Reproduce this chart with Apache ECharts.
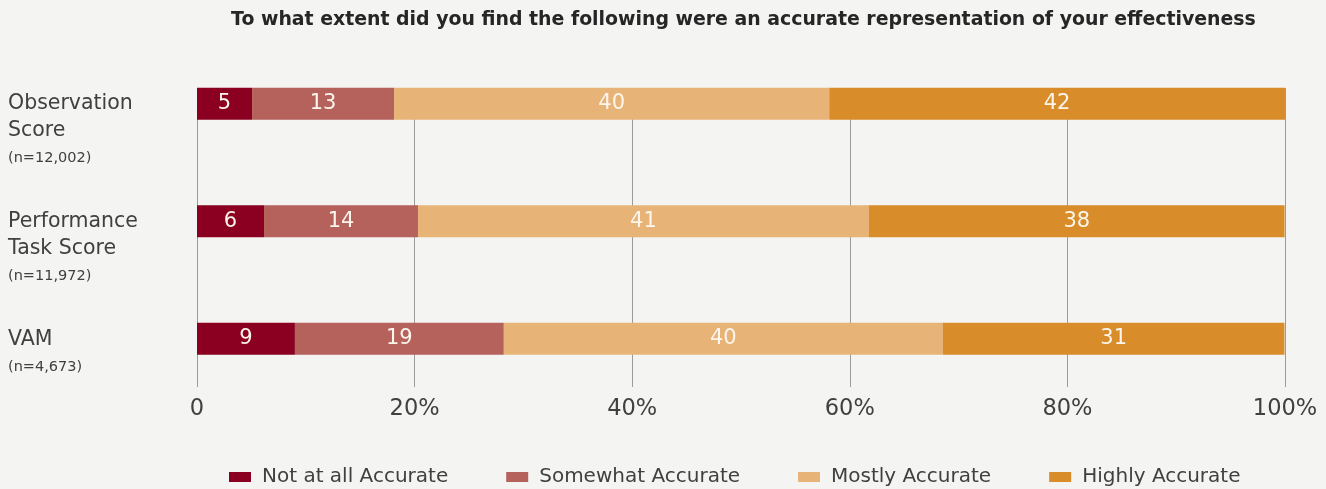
<!DOCTYPE html>
<html>
<head>
<meta charset="utf-8">
<script src="https://cdn.jsdelivr.net/npm/echarts@6/dist/echarts.min.js"></script>
<style>
  html, body { margin: 0; padding: 0; background: #f4f4f2; }
  #chart { width: 1326px; height: 489px; }
</style>
</head>
<body>
<div id="chart"></div>
<script>
var categories = ['Observation Score', 'Performance Task Score', 'VAM']
var sampleSizes = ['(n=12,002)', '(n=11,972)', '(n=4,673)']
var notAtAll = [5.06, 6.16, 9.0]
var somewhat = [13.05, 14.15, 19.2]
var mostly = [40.0, 41.45, 40.35]
var highly = [41.9, 38.2, 31.4]
var seriesNames = ['Not at all Accurate', 'Somewhat Accurate', 'Mostly Accurate', 'Highly Accurate']
var colors = ['#8b0020', '#b5615c', '#e8b376', '#d88d2a']

var font = 'DejaVu Sans'
var textColor = '#404040'
var chart = echarts.init(document.getElementById('chart'))

// label lines: first line sits on the bar centre, so pad the block above
function catLabel(value) {
  var lines = value === 'VAM' ? ['VAM'] : value === 'Observation Score' ? ['Observation', 'Score'] : ['Performance', 'Task Score']
  var out = (lines.length === 2 ? '{g2|}' : '{g1|}') + '\n'
  lines.forEach(function (l) { out += '{a|' + l + '}\n' })
  out += '{n|' + sampleSizes[categories.indexOf(value)] + '}'
  return out
}

function makeSeries(name, data, i) {
  return {
    name: name,
    type: 'bar',
    stack: 'total',
    barWidth: 32,
    xAxisIndex: 1,
    yAxisIndex: 1,
    itemStyle: { color: colors[i] },
    label: {
      show: true,
      position: 'inside',
      color: '#fbf5ec',
      fontFamily: font,
      fontSize: 21,
      formatter: function (p) { return Math.round(p.value) }
    },
    data: data
  }
}

chart.setOption({
  backgroundColor: '#f4f4f2',
  title: {
    text: 'To what extent did you find the following were an accurate representation of your effectiveness',
    left: 226,
    top: 6,
    textStyle: { fontFamily: font, fontWeight: 'bold', fontSize: 18.9, color: '#262626' }
  },
  legend: {
    left: 224,
    top: 462,
    itemWidth: 22,
    itemHeight: 10,
    itemGap: 58,
    icon: 'rect',
    textStyle: { fontFamily: font, fontSize: 20, color: textColor, padding: [0, 0, 0, 6] },
    data: seriesNames
  },
  grid: [
    // gridlines and tick labels
    { left: 197, right: 41, top: 88, height: 299 },
    // bars
    { left: 197, right: 41, top: 45, height: 352.5 }
  ],
  xAxis: [
    {
      gridIndex: 0,
      type: 'value',
      min: 0,
      max: 100,
      interval: 20,
      axisLine: { show: false },
      axisTick: { show: false },
      splitLine: { show: true, lineStyle: { color: '#9e9b96', width: 1 } },
      axisLabel: {
        margin: 11,
        fontFamily: font,
        fontSize: 22.5,
        color: textColor,
        formatter: function (v) { return v === 0 ? '0' : v + '%' }
      }
    },
    { gridIndex: 1, type: 'value', min: 0, max: 100, show: false }
  ],
  yAxis: [
    { gridIndex: 0, type: 'value', show: false },
    {
      gridIndex: 1,
      type: 'category',
      inverse: true,
      data: categories,
      axisLine: { show: false },
      axisTick: { show: false },
      axisLabel: {
        align: 'left',
        margin: 189,
        verticalAlign: 'middle',
        formatter: catLabel,
        rich: {
          g1: { height: 30 },
          g2: { height: 55 },
          a: { fontFamily: font, fontSize: 20.5, color: textColor, lineHeight: 27 },
          n: { fontFamily: font, fontSize: 14.5, color: textColor, lineHeight: 28 }
        }
      }
    }
  ],
  series: [
    makeSeries(seriesNames[0], notAtAll, 0),
    makeSeries(seriesNames[1], somewhat, 1),
    makeSeries(seriesNames[2], mostly, 2),
    makeSeries(seriesNames[3], highly, 3)
  ]
})
</script>
</body>
</html>
